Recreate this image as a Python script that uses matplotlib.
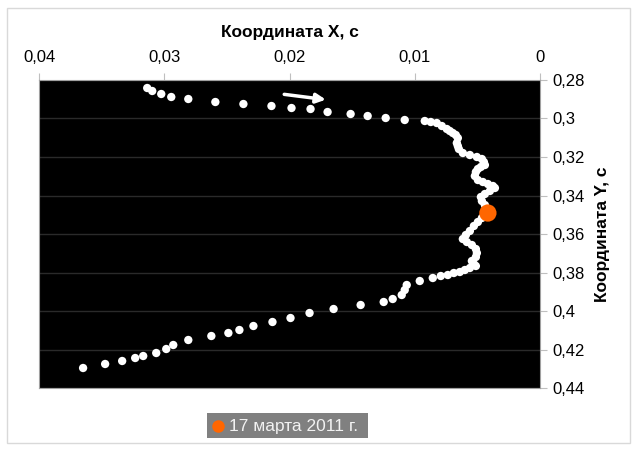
import matplotlib
matplotlib.use("Agg")
import matplotlib.pyplot as plt
from matplotlib.patches import Rectangle

plt.rcParams['font.family'] = ['Liberation Sans', 'DejaVu Sans']

# trajectory (X, Y)
x_vals = [0.03136, 0.03096, 0.03024, 0.02944, 0.02808, 0.02592, 0.02368, 0.02144,
          0.01984, 0.01832, 0.01696, 0.01512, 0.01376, 0.01232, 0.01080,
          0.00920, 0.00872, 0.00824, 0.00784, 0.00744, 0.00720, 0.00696, 0.00672,
          0.00656, 0.00664, 0.00656, 0.00648, 0.00616, 0.00560, 0.00504, 0.00464,
          0.00448, 0.00440, 0.00472, 0.00496, 0.00512, 0.00520, 0.00496, 0.00456,
          0.00416, 0.00376, 0.00360, 0.00400, 0.00440, 0.00472, 0.00464, 0.00440,
          0.00424, 0.00432, 0.00464, 0.00496, 0.00528, 0.00560, 0.00592, 0.00616,
          0.00584, 0.00544, 0.00512, 0.00504, 0.00512, 0.00544, 0.00528, 0.00512,
          0.00560, 0.00600, 0.00640, 0.00688, 0.00736, 0.00792, 0.00856, 0.00960,
          0.01064, 0.01080, 0.01104, 0.01176, 0.01248,
          0.01432, 0.01648, 0.01840, 0.01992, 0.02136, 0.02288, 0.02400, 0.02488,
          0.02624, 0.02808, 0.02928, 0.02984, 0.03064, 0.03168, 0.03232, 0.03336,
          0.03472, 0.03648]
y_vals = [0.28416, 0.28571, 0.28727, 0.28883, 0.28987, 0.29143, 0.29247, 0.29351,
          0.29455, 0.29506, 0.29662, 0.29766, 0.29870, 0.29974, 0.30078,
          0.30130, 0.30182, 0.30234, 0.30390, 0.30545, 0.30649, 0.30753, 0.30857,
          0.31013, 0.31273, 0.31429, 0.31584, 0.31792, 0.31896, 0.32000, 0.32104,
          0.32260, 0.32416, 0.32519, 0.32623, 0.32779, 0.32987, 0.33195, 0.33299,
          0.33403, 0.33506, 0.33610, 0.33766, 0.33922, 0.34078, 0.34286, 0.34494,
          0.34701, 0.34961, 0.35169, 0.35377, 0.35584, 0.35844, 0.36052, 0.36260,
          0.36416, 0.36571, 0.36779, 0.36987, 0.37195, 0.37403, 0.37558, 0.37662,
          0.37766, 0.37870, 0.37974, 0.38026, 0.38130, 0.38182, 0.38286, 0.38442,
          0.38649, 0.38909, 0.39169, 0.39377, 0.39532,
          0.39688, 0.39896, 0.40104, 0.40364, 0.40571, 0.40779, 0.40987, 0.41143,
          0.41299, 0.41506, 0.41766, 0.41974, 0.42182, 0.42338, 0.42442, 0.42597,
          0.42753, 0.42961]

# highlighted point
event_x = [0.00416]
event_y = [0.3491]
event_label = "17 марта 2011 г."

x_ticks = [0.04, 0.03, 0.02, 0.01, 0.0]
x_tick_labels = ["0,04", "0,03", "0,02", "0,01", "0"]
y_ticks = [0.28, 0.30, 0.32, 0.34, 0.36, 0.38, 0.40, 0.42, 0.44]
y_tick_labels = ["0,28", "0,3", "0,32", "0,34", "0,36", "0,38", "0,4", "0,42", "0,44"]

fig = plt.figure(figsize=(6.4, 4.65), dpi=100)
W, H = 640, 465

# outer border
fig.patches.append(Rectangle((7 / W, 1 - 443 / H), (630 - 7) / W, (443 - 8) / H,
                             transform=fig.transFigure, fill=False,
                             edgecolor='#d9d9d9', linewidth=1.0))

ax = fig.add_axes([39 / W, 1 - 388 / H, (540 - 39) / W, (388 - 80) / H])
ax.set_facecolor('black')

ax.scatter(x_vals, y_vals, s=36, color='white', edgecolors='none', zorder=3)
ax.scatter(event_x, event_y, s=155, color='#ff6600', edgecolors='none', zorder=4)

ax.set_xlim(0.04, 0.0)
ax.set_ylim(0.44, 0.28)

ax.xaxis.tick_top()
ax.xaxis.set_label_position('top')
ax.yaxis.tick_right()
ax.yaxis.set_label_position('right')

ax.set_xticks(x_ticks)
ax.set_xticklabels(x_tick_labels, fontsize=12)
ax.set_yticks(y_ticks)
ax.set_yticklabels(y_tick_labels, fontsize=12)
ax.tick_params(axis='both', direction='out', length=5, color='#bfbfbf', pad=4)
ax.tick_params(axis='x', pad=6)

ax.grid(axis='y', color='#2a2a2a', linewidth=1.0)
ax.set_axisbelow(True)
for s in ax.spines.values():
    s.set_color('#a0a0a0')

ax.set_xlabel("Координата X, с", fontsize=12.5, fontweight='bold', labelpad=9)
ax.set_ylabel("Координата Y, с", fontsize=12.5, fontweight='bold', labelpad=7)

# direction arrow
ax.annotate("", xy=(0.01688, 0.29039), xytext=(0.02064, 0.28727),
            arrowprops=dict(arrowstyle='-|>', color='white', lw=2.5,
                            mutation_scale=14), zorder=5)

# legend box
fig.patches.append(Rectangle((207 / W, 1 - 438 / H), (368 - 207) / W, (438 - 413) / H,
                             transform=fig.transFigure, facecolor='#808080',
                             edgecolor='none'))
fig.lines.append(plt.Line2D([218 / W], [1 - 426 / H], marker='o', markersize=9,
                            color='#ff6600', markeredgewidth=0,
                            transform=fig.transFigure))
fig.text(229 / W, 1 - 426 / H, event_label, fontsize=12.5, color='#f2f2f2',
         va='center', ha='left')

fig.savefig('out.png', dpi=100)
